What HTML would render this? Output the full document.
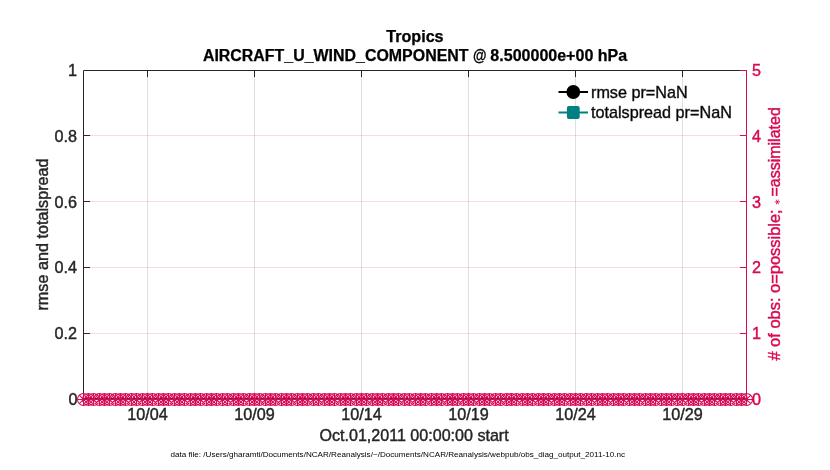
<!DOCTYPE html>
<html lang="en"><head><meta charset="utf-8"><title>Tropics AIRCRAFT_U_WIND_COMPONENT</title>
<style>html,body{margin:0;padding:0;background:#fff;}body{width:830px;height:470px;overflow:hidden;}svg{display:block;}text{font-family:"Liberation Sans",Arial,Helvetica,sans-serif;font-size:16.2px;fill:#262626;stroke:#262626;stroke-width:0.42px;}.b{font-weight:bold;font-size:15.85px;fill:#000;stroke:#000;stroke-width:0.25px}.p{fill:#d70a53;stroke:#d70a53}.s{font-size:8.1px;fill:#000;stroke:none}</style></head><body>
<svg width="830" height="470" viewBox="0 0 830 470">
<rect width="830" height="470" fill="#fff"/>
<g stroke="rgba(38,38,38,0.15)" stroke-width="1">
<line x1="147.50" y1="70.5" x2="147.50" y2="399.5"/>
<line x1="254.50" y1="70.5" x2="254.50" y2="399.5"/>
<line x1="361.50" y1="70.5" x2="361.50" y2="399.5"/>
<line x1="468.50" y1="70.5" x2="468.50" y2="399.5"/>
<line x1="575.50" y1="70.5" x2="575.50" y2="399.5"/>
<line x1="682.50" y1="70.5" x2="682.50" y2="399.5"/>
</g>
<g stroke="#262626" stroke-width="1" fill="none">
<path d="M83.5 399.5 V70.5 H746.5"/>
<line x1="83.5" y1="398.5" x2="746.5" y2="398.5" stroke-opacity="0.92"/>
<line x1="147.50" y1="70.5" x2="147.50" y2="77.1"/>
<line x1="147.50" y1="399.5" x2="147.50" y2="392.9"/>
<line x1="254.50" y1="70.5" x2="254.50" y2="77.1"/>
<line x1="254.50" y1="399.5" x2="254.50" y2="392.9"/>
<line x1="361.50" y1="70.5" x2="361.50" y2="77.1"/>
<line x1="361.50" y1="399.5" x2="361.50" y2="392.9"/>
<line x1="468.50" y1="70.5" x2="468.50" y2="77.1"/>
<line x1="468.50" y1="399.5" x2="468.50" y2="392.9"/>
<line x1="575.50" y1="70.5" x2="575.50" y2="77.1"/>
<line x1="575.50" y1="399.5" x2="575.50" y2="392.9"/>
<line x1="682.50" y1="70.5" x2="682.50" y2="77.1"/>
<line x1="682.50" y1="399.5" x2="682.50" y2="392.9"/>
<line x1="83.5" y1="333.50" x2="90.1" y2="333.50"/>
<line x1="83.5" y1="267.50" x2="90.1" y2="267.50"/>
<line x1="83.5" y1="201.50" x2="90.1" y2="201.50"/>
<line x1="83.5" y1="135.50" x2="90.1" y2="135.50"/>
</g>
<g stroke="rgba(215,10,83,0.15)" stroke-width="1">
<line x1="83.5" y1="333.50" x2="746.5" y2="333.50"/>
<line x1="83.5" y1="267.50" x2="746.5" y2="267.50"/>
<line x1="83.5" y1="201.50" x2="746.5" y2="201.50"/>
<line x1="83.5" y1="135.50" x2="746.5" y2="135.50"/>
</g>
<g stroke="#d70a53" stroke-width="1" fill="none">
<line x1="746.5" y1="70.0" x2="746.5" y2="399.5"/>
<line x1="739.9" y1="399.50" x2="746.5" y2="399.50"/>
<line x1="739.9" y1="333.50" x2="746.5" y2="333.50"/>
<line x1="739.9" y1="267.50" x2="746.5" y2="267.50"/>
<line x1="739.9" y1="201.50" x2="746.5" y2="201.50"/>
<line x1="739.9" y1="135.50" x2="746.5" y2="135.50"/>
<line x1="739.9" y1="70.50" x2="746.5" y2="70.50"/>
</g>
<g stroke="#d70a53" stroke-width="1.05" fill="none">
<path d="M77.50 399.45a6.00 6.00 0 1 0 12.00 0a6.00 6.00 0 1 0 -12.00 0M82.50 399.45a6.00 6.00 0 1 0 12.00 0a6.00 6.00 0 1 0 -12.00 0M87.50 399.45a6.00 6.00 0 1 0 12.00 0a6.00 6.00 0 1 0 -12.00 0M93.50 399.45a6.00 6.00 0 1 0 12.00 0a6.00 6.00 0 1 0 -12.00 0M98.50 399.45a6.00 6.00 0 1 0 12.00 0a6.00 6.00 0 1 0 -12.00 0M103.50 399.45a6.00 6.00 0 1 0 12.00 0a6.00 6.00 0 1 0 -12.00 0M109.50 399.45a6.00 6.00 0 1 0 12.00 0a6.00 6.00 0 1 0 -12.00 0M114.50 399.45a6.00 6.00 0 1 0 12.00 0a6.00 6.00 0 1 0 -12.00 0M119.50 399.45a6.00 6.00 0 1 0 12.00 0a6.00 6.00 0 1 0 -12.00 0M125.50 399.45a6.00 6.00 0 1 0 12.00 0a6.00 6.00 0 1 0 -12.00 0M130.50 399.45a6.00 6.00 0 1 0 12.00 0a6.00 6.00 0 1 0 -12.00 0M136.50 399.45a6.00 6.00 0 1 0 12.00 0a6.00 6.00 0 1 0 -12.00 0M141.50 399.45a6.00 6.00 0 1 0 12.00 0a6.00 6.00 0 1 0 -12.00 0M146.50 399.45a6.00 6.00 0 1 0 12.00 0a6.00 6.00 0 1 0 -12.00 0M152.50 399.45a6.00 6.00 0 1 0 12.00 0a6.00 6.00 0 1 0 -12.00 0M157.50 399.45a6.00 6.00 0 1 0 12.00 0a6.00 6.00 0 1 0 -12.00 0M162.50 399.45a6.00 6.00 0 1 0 12.00 0a6.00 6.00 0 1 0 -12.00 0M168.50 399.45a6.00 6.00 0 1 0 12.00 0a6.00 6.00 0 1 0 -12.00 0M173.50 399.45a6.00 6.00 0 1 0 12.00 0a6.00 6.00 0 1 0 -12.00 0M178.50 399.45a6.00 6.00 0 1 0 12.00 0a6.00 6.00 0 1 0 -12.00 0M184.50 399.45a6.00 6.00 0 1 0 12.00 0a6.00 6.00 0 1 0 -12.00 0M189.50 399.45a6.00 6.00 0 1 0 12.00 0a6.00 6.00 0 1 0 -12.00 0M194.50 399.45a6.00 6.00 0 1 0 12.00 0a6.00 6.00 0 1 0 -12.00 0M200.50 399.45a6.00 6.00 0 1 0 12.00 0a6.00 6.00 0 1 0 -12.00 0M205.50 399.45a6.00 6.00 0 1 0 12.00 0a6.00 6.00 0 1 0 -12.00 0M210.50 399.45a6.00 6.00 0 1 0 12.00 0a6.00 6.00 0 1 0 -12.00 0M216.50 399.45a6.00 6.00 0 1 0 12.00 0a6.00 6.00 0 1 0 -12.00 0M221.50 399.45a6.00 6.00 0 1 0 12.00 0a6.00 6.00 0 1 0 -12.00 0M227.50 399.45a6.00 6.00 0 1 0 12.00 0a6.00 6.00 0 1 0 -12.00 0M232.50 399.45a6.00 6.00 0 1 0 12.00 0a6.00 6.00 0 1 0 -12.00 0M237.50 399.45a6.00 6.00 0 1 0 12.00 0a6.00 6.00 0 1 0 -12.00 0M243.50 399.45a6.00 6.00 0 1 0 12.00 0a6.00 6.00 0 1 0 -12.00 0M248.50 399.45a6.00 6.00 0 1 0 12.00 0a6.00 6.00 0 1 0 -12.00 0M253.50 399.45a6.00 6.00 0 1 0 12.00 0a6.00 6.00 0 1 0 -12.00 0M259.50 399.45a6.00 6.00 0 1 0 12.00 0a6.00 6.00 0 1 0 -12.00 0M264.50 399.45a6.00 6.00 0 1 0 12.00 0a6.00 6.00 0 1 0 -12.00 0M269.50 399.45a6.00 6.00 0 1 0 12.00 0a6.00 6.00 0 1 0 -12.00 0M275.50 399.45a6.00 6.00 0 1 0 12.00 0a6.00 6.00 0 1 0 -12.00 0M280.50 399.45a6.00 6.00 0 1 0 12.00 0a6.00 6.00 0 1 0 -12.00 0M285.50 399.45a6.00 6.00 0 1 0 12.00 0a6.00 6.00 0 1 0 -12.00 0M291.50 399.45a6.00 6.00 0 1 0 12.00 0a6.00 6.00 0 1 0 -12.00 0M296.50 399.45a6.00 6.00 0 1 0 12.00 0a6.00 6.00 0 1 0 -12.00 0M301.50 399.45a6.00 6.00 0 1 0 12.00 0a6.00 6.00 0 1 0 -12.00 0M307.50 399.45a6.00 6.00 0 1 0 12.00 0a6.00 6.00 0 1 0 -12.00 0M312.50 399.45a6.00 6.00 0 1 0 12.00 0a6.00 6.00 0 1 0 -12.00 0M318.50 399.45a6.00 6.00 0 1 0 12.00 0a6.00 6.00 0 1 0 -12.00 0M323.50 399.45a6.00 6.00 0 1 0 12.00 0a6.00 6.00 0 1 0 -12.00 0M328.50 399.45a6.00 6.00 0 1 0 12.00 0a6.00 6.00 0 1 0 -12.00 0M334.50 399.45a6.00 6.00 0 1 0 12.00 0a6.00 6.00 0 1 0 -12.00 0M339.50 399.45a6.00 6.00 0 1 0 12.00 0a6.00 6.00 0 1 0 -12.00 0M344.50 399.45a6.00 6.00 0 1 0 12.00 0a6.00 6.00 0 1 0 -12.00 0M350.50 399.45a6.00 6.00 0 1 0 12.00 0a6.00 6.00 0 1 0 -12.00 0M355.50 399.45a6.00 6.00 0 1 0 12.00 0a6.00 6.00 0 1 0 -12.00 0M360.50 399.45a6.00 6.00 0 1 0 12.00 0a6.00 6.00 0 1 0 -12.00 0M366.50 399.45a6.00 6.00 0 1 0 12.00 0a6.00 6.00 0 1 0 -12.00 0M371.50 399.45a6.00 6.00 0 1 0 12.00 0a6.00 6.00 0 1 0 -12.00 0M376.50 399.45a6.00 6.00 0 1 0 12.00 0a6.00 6.00 0 1 0 -12.00 0M382.50 399.45a6.00 6.00 0 1 0 12.00 0a6.00 6.00 0 1 0 -12.00 0M387.50 399.45a6.00 6.00 0 1 0 12.00 0a6.00 6.00 0 1 0 -12.00 0M392.50 399.45a6.00 6.00 0 1 0 12.00 0a6.00 6.00 0 1 0 -12.00 0M398.50 399.45a6.00 6.00 0 1 0 12.00 0a6.00 6.00 0 1 0 -12.00 0M403.50 399.45a6.00 6.00 0 1 0 12.00 0a6.00 6.00 0 1 0 -12.00 0M409.50 399.45a6.00 6.00 0 1 0 12.00 0a6.00 6.00 0 1 0 -12.00 0M414.50 399.45a6.00 6.00 0 1 0 12.00 0a6.00 6.00 0 1 0 -12.00 0M419.50 399.45a6.00 6.00 0 1 0 12.00 0a6.00 6.00 0 1 0 -12.00 0M425.50 399.45a6.00 6.00 0 1 0 12.00 0a6.00 6.00 0 1 0 -12.00 0M430.50 399.45a6.00 6.00 0 1 0 12.00 0a6.00 6.00 0 1 0 -12.00 0M435.50 399.45a6.00 6.00 0 1 0 12.00 0a6.00 6.00 0 1 0 -12.00 0M441.50 399.45a6.00 6.00 0 1 0 12.00 0a6.00 6.00 0 1 0 -12.00 0M446.50 399.45a6.00 6.00 0 1 0 12.00 0a6.00 6.00 0 1 0 -12.00 0M451.50 399.45a6.00 6.00 0 1 0 12.00 0a6.00 6.00 0 1 0 -12.00 0M457.50 399.45a6.00 6.00 0 1 0 12.00 0a6.00 6.00 0 1 0 -12.00 0M462.50 399.45a6.00 6.00 0 1 0 12.00 0a6.00 6.00 0 1 0 -12.00 0M467.50 399.45a6.00 6.00 0 1 0 12.00 0a6.00 6.00 0 1 0 -12.00 0M473.50 399.45a6.00 6.00 0 1 0 12.00 0a6.00 6.00 0 1 0 -12.00 0M478.50 399.45a6.00 6.00 0 1 0 12.00 0a6.00 6.00 0 1 0 -12.00 0M483.50 399.45a6.00 6.00 0 1 0 12.00 0a6.00 6.00 0 1 0 -12.00 0M489.50 399.45a6.00 6.00 0 1 0 12.00 0a6.00 6.00 0 1 0 -12.00 0M494.50 399.45a6.00 6.00 0 1 0 12.00 0a6.00 6.00 0 1 0 -12.00 0M500.50 399.45a6.00 6.00 0 1 0 12.00 0a6.00 6.00 0 1 0 -12.00 0M505.50 399.45a6.00 6.00 0 1 0 12.00 0a6.00 6.00 0 1 0 -12.00 0M510.50 399.45a6.00 6.00 0 1 0 12.00 0a6.00 6.00 0 1 0 -12.00 0M516.50 399.45a6.00 6.00 0 1 0 12.00 0a6.00 6.00 0 1 0 -12.00 0M521.50 399.45a6.00 6.00 0 1 0 12.00 0a6.00 6.00 0 1 0 -12.00 0M526.50 399.45a6.00 6.00 0 1 0 12.00 0a6.00 6.00 0 1 0 -12.00 0M532.50 399.45a6.00 6.00 0 1 0 12.00 0a6.00 6.00 0 1 0 -12.00 0M537.50 399.45a6.00 6.00 0 1 0 12.00 0a6.00 6.00 0 1 0 -12.00 0M542.50 399.45a6.00 6.00 0 1 0 12.00 0a6.00 6.00 0 1 0 -12.00 0M548.50 399.45a6.00 6.00 0 1 0 12.00 0a6.00 6.00 0 1 0 -12.00 0M553.50 399.45a6.00 6.00 0 1 0 12.00 0a6.00 6.00 0 1 0 -12.00 0M558.50 399.45a6.00 6.00 0 1 0 12.00 0a6.00 6.00 0 1 0 -12.00 0M564.50 399.45a6.00 6.00 0 1 0 12.00 0a6.00 6.00 0 1 0 -12.00 0M569.50 399.45a6.00 6.00 0 1 0 12.00 0a6.00 6.00 0 1 0 -12.00 0M574.50 399.45a6.00 6.00 0 1 0 12.00 0a6.00 6.00 0 1 0 -12.00 0M580.50 399.45a6.00 6.00 0 1 0 12.00 0a6.00 6.00 0 1 0 -12.00 0M585.50 399.45a6.00 6.00 0 1 0 12.00 0a6.00 6.00 0 1 0 -12.00 0M591.50 399.45a6.00 6.00 0 1 0 12.00 0a6.00 6.00 0 1 0 -12.00 0M596.50 399.45a6.00 6.00 0 1 0 12.00 0a6.00 6.00 0 1 0 -12.00 0M601.50 399.45a6.00 6.00 0 1 0 12.00 0a6.00 6.00 0 1 0 -12.00 0M607.50 399.45a6.00 6.00 0 1 0 12.00 0a6.00 6.00 0 1 0 -12.00 0M612.50 399.45a6.00 6.00 0 1 0 12.00 0a6.00 6.00 0 1 0 -12.00 0M617.50 399.45a6.00 6.00 0 1 0 12.00 0a6.00 6.00 0 1 0 -12.00 0M623.50 399.45a6.00 6.00 0 1 0 12.00 0a6.00 6.00 0 1 0 -12.00 0M628.50 399.45a6.00 6.00 0 1 0 12.00 0a6.00 6.00 0 1 0 -12.00 0M633.50 399.45a6.00 6.00 0 1 0 12.00 0a6.00 6.00 0 1 0 -12.00 0M639.50 399.45a6.00 6.00 0 1 0 12.00 0a6.00 6.00 0 1 0 -12.00 0M644.50 399.45a6.00 6.00 0 1 0 12.00 0a6.00 6.00 0 1 0 -12.00 0M649.50 399.45a6.00 6.00 0 1 0 12.00 0a6.00 6.00 0 1 0 -12.00 0M655.50 399.45a6.00 6.00 0 1 0 12.00 0a6.00 6.00 0 1 0 -12.00 0M660.50 399.45a6.00 6.00 0 1 0 12.00 0a6.00 6.00 0 1 0 -12.00 0M665.50 399.45a6.00 6.00 0 1 0 12.00 0a6.00 6.00 0 1 0 -12.00 0M671.50 399.45a6.00 6.00 0 1 0 12.00 0a6.00 6.00 0 1 0 -12.00 0M676.50 399.45a6.00 6.00 0 1 0 12.00 0a6.00 6.00 0 1 0 -12.00 0M682.50 399.45a6.00 6.00 0 1 0 12.00 0a6.00 6.00 0 1 0 -12.00 0M687.50 399.45a6.00 6.00 0 1 0 12.00 0a6.00 6.00 0 1 0 -12.00 0M692.50 399.45a6.00 6.00 0 1 0 12.00 0a6.00 6.00 0 1 0 -12.00 0M698.50 399.45a6.00 6.00 0 1 0 12.00 0a6.00 6.00 0 1 0 -12.00 0M703.50 399.45a6.00 6.00 0 1 0 12.00 0a6.00 6.00 0 1 0 -12.00 0M708.50 399.45a6.00 6.00 0 1 0 12.00 0a6.00 6.00 0 1 0 -12.00 0M714.50 399.45a6.00 6.00 0 1 0 12.00 0a6.00 6.00 0 1 0 -12.00 0M719.50 399.45a6.00 6.00 0 1 0 12.00 0a6.00 6.00 0 1 0 -12.00 0M724.50 399.45a6.00 6.00 0 1 0 12.00 0a6.00 6.00 0 1 0 -12.00 0M730.50 399.45a6.00 6.00 0 1 0 12.00 0a6.00 6.00 0 1 0 -12.00 0M735.50 399.45a6.00 6.00 0 1 0 12.00 0a6.00 6.00 0 1 0 -12.00 0M740.50 399.45a6.00 6.00 0 1 0 12.00 0a6.00 6.00 0 1 0 -12.00 0"/>
<path d="M79.26 395.21l8.49 8.49M79.26 403.69l8.49 -8.49M83.50 393.45v12.00M77.50 399.45h12.00M84.26 395.21l8.49 8.49M84.26 403.69l8.49 -8.49M88.50 393.45v12.00M82.50 399.45h12.00M89.26 395.21l8.49 8.49M89.26 403.69l8.49 -8.49M93.50 393.45v12.00M87.50 399.45h12.00M95.26 395.21l8.49 8.49M95.26 403.69l8.49 -8.49M99.50 393.45v12.00M93.50 399.45h12.00M100.26 395.21l8.49 8.49M100.26 403.69l8.49 -8.49M104.50 393.45v12.00M98.50 399.45h12.00M105.26 395.21l8.49 8.49M105.26 403.69l8.49 -8.49M109.50 393.45v12.00M103.50 399.45h12.00M111.26 395.21l8.49 8.49M111.26 403.69l8.49 -8.49M115.50 393.45v12.00M109.50 399.45h12.00M116.26 395.21l8.49 8.49M116.26 403.69l8.49 -8.49M120.50 393.45v12.00M114.50 399.45h12.00M121.26 395.21l8.49 8.49M121.26 403.69l8.49 -8.49M125.50 393.45v12.00M119.50 399.45h12.00M127.26 395.21l8.49 8.49M127.26 403.69l8.49 -8.49M131.50 393.45v12.00M125.50 399.45h12.00M132.26 395.21l8.49 8.49M132.26 403.69l8.49 -8.49M136.50 393.45v12.00M130.50 399.45h12.00M138.26 395.21l8.49 8.49M138.26 403.69l8.49 -8.49M142.50 393.45v12.00M136.50 399.45h12.00M143.26 395.21l8.49 8.49M143.26 403.69l8.49 -8.49M147.50 393.45v12.00M141.50 399.45h12.00M148.26 395.21l8.49 8.49M148.26 403.69l8.49 -8.49M152.50 393.45v12.00M146.50 399.45h12.00M154.26 395.21l8.49 8.49M154.26 403.69l8.49 -8.49M158.50 393.45v12.00M152.50 399.45h12.00M159.26 395.21l8.49 8.49M159.26 403.69l8.49 -8.49M163.50 393.45v12.00M157.50 399.45h12.00M164.26 395.21l8.49 8.49M164.26 403.69l8.49 -8.49M168.50 393.45v12.00M162.50 399.45h12.00M170.26 395.21l8.49 8.49M170.26 403.69l8.49 -8.49M174.50 393.45v12.00M168.50 399.45h12.00M175.26 395.21l8.49 8.49M175.26 403.69l8.49 -8.49M179.50 393.45v12.00M173.50 399.45h12.00M180.26 395.21l8.49 8.49M180.26 403.69l8.49 -8.49M184.50 393.45v12.00M178.50 399.45h12.00M186.26 395.21l8.49 8.49M186.26 403.69l8.49 -8.49M190.50 393.45v12.00M184.50 399.45h12.00M191.26 395.21l8.49 8.49M191.26 403.69l8.49 -8.49M195.50 393.45v12.00M189.50 399.45h12.00M196.26 395.21l8.49 8.49M196.26 403.69l8.49 -8.49M200.50 393.45v12.00M194.50 399.45h12.00M202.26 395.21l8.49 8.49M202.26 403.69l8.49 -8.49M206.50 393.45v12.00M200.50 399.45h12.00M207.26 395.21l8.49 8.49M207.26 403.69l8.49 -8.49M211.50 393.45v12.00M205.50 399.45h12.00M212.26 395.21l8.49 8.49M212.26 403.69l8.49 -8.49M216.50 393.45v12.00M210.50 399.45h12.00M218.26 395.21l8.49 8.49M218.26 403.69l8.49 -8.49M222.50 393.45v12.00M216.50 399.45h12.00M223.26 395.21l8.49 8.49M223.26 403.69l8.49 -8.49M227.50 393.45v12.00M221.50 399.45h12.00M229.26 395.21l8.49 8.49M229.26 403.69l8.49 -8.49M233.50 393.45v12.00M227.50 399.45h12.00M234.26 395.21l8.49 8.49M234.26 403.69l8.49 -8.49M238.50 393.45v12.00M232.50 399.45h12.00M239.26 395.21l8.49 8.49M239.26 403.69l8.49 -8.49M243.50 393.45v12.00M237.50 399.45h12.00M245.26 395.21l8.49 8.49M245.26 403.69l8.49 -8.49M249.50 393.45v12.00M243.50 399.45h12.00M250.26 395.21l8.49 8.49M250.26 403.69l8.49 -8.49M254.50 393.45v12.00M248.50 399.45h12.00M255.26 395.21l8.49 8.49M255.26 403.69l8.49 -8.49M259.50 393.45v12.00M253.50 399.45h12.00M261.26 395.21l8.49 8.49M261.26 403.69l8.49 -8.49M265.50 393.45v12.00M259.50 399.45h12.00M266.26 395.21l8.49 8.49M266.26 403.69l8.49 -8.49M270.50 393.45v12.00M264.50 399.45h12.00M271.26 395.21l8.49 8.49M271.26 403.69l8.49 -8.49M275.50 393.45v12.00M269.50 399.45h12.00M277.26 395.21l8.49 8.49M277.26 403.69l8.49 -8.49M281.50 393.45v12.00M275.50 399.45h12.00M282.26 395.21l8.49 8.49M282.26 403.69l8.49 -8.49M286.50 393.45v12.00M280.50 399.45h12.00M287.26 395.21l8.49 8.49M287.26 403.69l8.49 -8.49M291.50 393.45v12.00M285.50 399.45h12.00M293.26 395.21l8.49 8.49M293.26 403.69l8.49 -8.49M297.50 393.45v12.00M291.50 399.45h12.00M298.26 395.21l8.49 8.49M298.26 403.69l8.49 -8.49M302.50 393.45v12.00M296.50 399.45h12.00M303.26 395.21l8.49 8.49M303.26 403.69l8.49 -8.49M307.50 393.45v12.00M301.50 399.45h12.00M309.26 395.21l8.49 8.49M309.26 403.69l8.49 -8.49M313.50 393.45v12.00M307.50 399.45h12.00M314.26 395.21l8.49 8.49M314.26 403.69l8.49 -8.49M318.50 393.45v12.00M312.50 399.45h12.00M320.26 395.21l8.49 8.49M320.26 403.69l8.49 -8.49M324.50 393.45v12.00M318.50 399.45h12.00M325.26 395.21l8.49 8.49M325.26 403.69l8.49 -8.49M329.50 393.45v12.00M323.50 399.45h12.00M330.26 395.21l8.49 8.49M330.26 403.69l8.49 -8.49M334.50 393.45v12.00M328.50 399.45h12.00M336.26 395.21l8.49 8.49M336.26 403.69l8.49 -8.49M340.50 393.45v12.00M334.50 399.45h12.00M341.26 395.21l8.49 8.49M341.26 403.69l8.49 -8.49M345.50 393.45v12.00M339.50 399.45h12.00M346.26 395.21l8.49 8.49M346.26 403.69l8.49 -8.49M350.50 393.45v12.00M344.50 399.45h12.00M352.26 395.21l8.49 8.49M352.26 403.69l8.49 -8.49M356.50 393.45v12.00M350.50 399.45h12.00M357.26 395.21l8.49 8.49M357.26 403.69l8.49 -8.49M361.50 393.45v12.00M355.50 399.45h12.00M362.26 395.21l8.49 8.49M362.26 403.69l8.49 -8.49M366.50 393.45v12.00M360.50 399.45h12.00M368.26 395.21l8.49 8.49M368.26 403.69l8.49 -8.49M372.50 393.45v12.00M366.50 399.45h12.00M373.26 395.21l8.49 8.49M373.26 403.69l8.49 -8.49M377.50 393.45v12.00M371.50 399.45h12.00M378.26 395.21l8.49 8.49M378.26 403.69l8.49 -8.49M382.50 393.45v12.00M376.50 399.45h12.00M384.26 395.21l8.49 8.49M384.26 403.69l8.49 -8.49M388.50 393.45v12.00M382.50 399.45h12.00M389.26 395.21l8.49 8.49M389.26 403.69l8.49 -8.49M393.50 393.45v12.00M387.50 399.45h12.00M394.26 395.21l8.49 8.49M394.26 403.69l8.49 -8.49M398.50 393.45v12.00M392.50 399.45h12.00M400.26 395.21l8.49 8.49M400.26 403.69l8.49 -8.49M404.50 393.45v12.00M398.50 399.45h12.00M405.26 395.21l8.49 8.49M405.26 403.69l8.49 -8.49M409.50 393.45v12.00M403.50 399.45h12.00M411.26 395.21l8.49 8.49M411.26 403.69l8.49 -8.49M415.50 393.45v12.00M409.50 399.45h12.00M416.26 395.21l8.49 8.49M416.26 403.69l8.49 -8.49M420.50 393.45v12.00M414.50 399.45h12.00M421.26 395.21l8.49 8.49M421.26 403.69l8.49 -8.49M425.50 393.45v12.00M419.50 399.45h12.00M427.26 395.21l8.49 8.49M427.26 403.69l8.49 -8.49M431.50 393.45v12.00M425.50 399.45h12.00M432.26 395.21l8.49 8.49M432.26 403.69l8.49 -8.49M436.50 393.45v12.00M430.50 399.45h12.00M437.26 395.21l8.49 8.49M437.26 403.69l8.49 -8.49M441.50 393.45v12.00M435.50 399.45h12.00M443.26 395.21l8.49 8.49M443.26 403.69l8.49 -8.49M447.50 393.45v12.00M441.50 399.45h12.00M448.26 395.21l8.49 8.49M448.26 403.69l8.49 -8.49M452.50 393.45v12.00M446.50 399.45h12.00M453.26 395.21l8.49 8.49M453.26 403.69l8.49 -8.49M457.50 393.45v12.00M451.50 399.45h12.00M459.26 395.21l8.49 8.49M459.26 403.69l8.49 -8.49M463.50 393.45v12.00M457.50 399.45h12.00M464.26 395.21l8.49 8.49M464.26 403.69l8.49 -8.49M468.50 393.45v12.00M462.50 399.45h12.00M469.26 395.21l8.49 8.49M469.26 403.69l8.49 -8.49M473.50 393.45v12.00M467.50 399.45h12.00M475.26 395.21l8.49 8.49M475.26 403.69l8.49 -8.49M479.50 393.45v12.00M473.50 399.45h12.00M480.26 395.21l8.49 8.49M480.26 403.69l8.49 -8.49M484.50 393.45v12.00M478.50 399.45h12.00M485.26 395.21l8.49 8.49M485.26 403.69l8.49 -8.49M489.50 393.45v12.00M483.50 399.45h12.00M491.26 395.21l8.49 8.49M491.26 403.69l8.49 -8.49M495.50 393.45v12.00M489.50 399.45h12.00M496.26 395.21l8.49 8.49M496.26 403.69l8.49 -8.49M500.50 393.45v12.00M494.50 399.45h12.00M502.26 395.21l8.49 8.49M502.26 403.69l8.49 -8.49M506.50 393.45v12.00M500.50 399.45h12.00M507.26 395.21l8.49 8.49M507.26 403.69l8.49 -8.49M511.50 393.45v12.00M505.50 399.45h12.00M512.26 395.21l8.49 8.49M512.26 403.69l8.49 -8.49M516.50 393.45v12.00M510.50 399.45h12.00M518.26 395.21l8.49 8.49M518.26 403.69l8.49 -8.49M522.50 393.45v12.00M516.50 399.45h12.00M523.26 395.21l8.49 8.49M523.26 403.69l8.49 -8.49M527.50 393.45v12.00M521.50 399.45h12.00M528.26 395.21l8.49 8.49M528.26 403.69l8.49 -8.49M532.50 393.45v12.00M526.50 399.45h12.00M534.26 395.21l8.49 8.49M534.26 403.69l8.49 -8.49M538.50 393.45v12.00M532.50 399.45h12.00M539.26 395.21l8.49 8.49M539.26 403.69l8.49 -8.49M543.50 393.45v12.00M537.50 399.45h12.00M544.26 395.21l8.49 8.49M544.26 403.69l8.49 -8.49M548.50 393.45v12.00M542.50 399.45h12.00M550.26 395.21l8.49 8.49M550.26 403.69l8.49 -8.49M554.50 393.45v12.00M548.50 399.45h12.00M555.26 395.21l8.49 8.49M555.26 403.69l8.49 -8.49M559.50 393.45v12.00M553.50 399.45h12.00M560.26 395.21l8.49 8.49M560.26 403.69l8.49 -8.49M564.50 393.45v12.00M558.50 399.45h12.00M566.26 395.21l8.49 8.49M566.26 403.69l8.49 -8.49M570.50 393.45v12.00M564.50 399.45h12.00M571.26 395.21l8.49 8.49M571.26 403.69l8.49 -8.49M575.50 393.45v12.00M569.50 399.45h12.00M576.26 395.21l8.49 8.49M576.26 403.69l8.49 -8.49M580.50 393.45v12.00M574.50 399.45h12.00M582.26 395.21l8.49 8.49M582.26 403.69l8.49 -8.49M586.50 393.45v12.00M580.50 399.45h12.00M587.26 395.21l8.49 8.49M587.26 403.69l8.49 -8.49M591.50 393.45v12.00M585.50 399.45h12.00M593.26 395.21l8.49 8.49M593.26 403.69l8.49 -8.49M597.50 393.45v12.00M591.50 399.45h12.00M598.26 395.21l8.49 8.49M598.26 403.69l8.49 -8.49M602.50 393.45v12.00M596.50 399.45h12.00M603.26 395.21l8.49 8.49M603.26 403.69l8.49 -8.49M607.50 393.45v12.00M601.50 399.45h12.00M609.26 395.21l8.49 8.49M609.26 403.69l8.49 -8.49M613.50 393.45v12.00M607.50 399.45h12.00M614.26 395.21l8.49 8.49M614.26 403.69l8.49 -8.49M618.50 393.45v12.00M612.50 399.45h12.00M619.26 395.21l8.49 8.49M619.26 403.69l8.49 -8.49M623.50 393.45v12.00M617.50 399.45h12.00M625.26 395.21l8.49 8.49M625.26 403.69l8.49 -8.49M629.50 393.45v12.00M623.50 399.45h12.00M630.26 395.21l8.49 8.49M630.26 403.69l8.49 -8.49M634.50 393.45v12.00M628.50 399.45h12.00M635.26 395.21l8.49 8.49M635.26 403.69l8.49 -8.49M639.50 393.45v12.00M633.50 399.45h12.00M641.26 395.21l8.49 8.49M641.26 403.69l8.49 -8.49M645.50 393.45v12.00M639.50 399.45h12.00M646.26 395.21l8.49 8.49M646.26 403.69l8.49 -8.49M650.50 393.45v12.00M644.50 399.45h12.00M651.26 395.21l8.49 8.49M651.26 403.69l8.49 -8.49M655.50 393.45v12.00M649.50 399.45h12.00M657.26 395.21l8.49 8.49M657.26 403.69l8.49 -8.49M661.50 393.45v12.00M655.50 399.45h12.00M662.26 395.21l8.49 8.49M662.26 403.69l8.49 -8.49M666.50 393.45v12.00M660.50 399.45h12.00M667.26 395.21l8.49 8.49M667.26 403.69l8.49 -8.49M671.50 393.45v12.00M665.50 399.45h12.00M673.26 395.21l8.49 8.49M673.26 403.69l8.49 -8.49M677.50 393.45v12.00M671.50 399.45h12.00M678.26 395.21l8.49 8.49M678.26 403.69l8.49 -8.49M682.50 393.45v12.00M676.50 399.45h12.00M684.26 395.21l8.49 8.49M684.26 403.69l8.49 -8.49M688.50 393.45v12.00M682.50 399.45h12.00M689.26 395.21l8.49 8.49M689.26 403.69l8.49 -8.49M693.50 393.45v12.00M687.50 399.45h12.00M694.26 395.21l8.49 8.49M694.26 403.69l8.49 -8.49M698.50 393.45v12.00M692.50 399.45h12.00M700.26 395.21l8.49 8.49M700.26 403.69l8.49 -8.49M704.50 393.45v12.00M698.50 399.45h12.00M705.26 395.21l8.49 8.49M705.26 403.69l8.49 -8.49M709.50 393.45v12.00M703.50 399.45h12.00M710.26 395.21l8.49 8.49M710.26 403.69l8.49 -8.49M714.50 393.45v12.00M708.50 399.45h12.00M716.26 395.21l8.49 8.49M716.26 403.69l8.49 -8.49M720.50 393.45v12.00M714.50 399.45h12.00M721.26 395.21l8.49 8.49M721.26 403.69l8.49 -8.49M725.50 393.45v12.00M719.50 399.45h12.00M726.26 395.21l8.49 8.49M726.26 403.69l8.49 -8.49M730.50 393.45v12.00M724.50 399.45h12.00M732.26 395.21l8.49 8.49M732.26 403.69l8.49 -8.49M736.50 393.45v12.00M730.50 399.45h12.00M737.26 395.21l8.49 8.49M737.26 403.69l8.49 -8.49M741.50 393.45v12.00M735.50 399.45h12.00M742.26 395.21l8.49 8.49M742.26 403.69l8.49 -8.49M746.50 393.45v12.00M740.50 399.45h12.00"/>
</g>
<line x1="558.5" y1="92" x2="588" y2="92" stroke="#000" stroke-width="2"/>
<circle cx="573.3" cy="92" r="6.9" fill="#000"/>
<line x1="558.5" y1="112.5" x2="588" y2="112.5" stroke="#008080" stroke-width="2"/>
<rect x="566.9" y="106.1" width="12.8" height="12.8" rx="2" fill="#008080"/>
<text x="591" y="97.5" style="fill:#000">rmse pr=NaN</text>
<text x="591" y="117.5" style="fill:#000">totalspread pr=NaN</text>
<text class="b" x="414.9" y="41.5" text-anchor="middle" style="font-size:16.15px">Tropics</text>
<text class="b" x="202.9" y="61.3" style="font-size:15.94px">AIRCRAFT_U_WIND_COMPONENT</text>
<text class="b" transform="translate(479.8 61.3) scale(0.87 1)" text-anchor="middle" style="font-size:15.9px">@</text>
<text class="b" x="627.2" y="61.3" text-anchor="end" style="font-size:16.05px">8.500000e+00 hPa</text>
<text x="77.6" y="405.3" text-anchor="end">0</text>
<text x="77" y="338.6" text-anchor="end">0.2</text>
<text x="77" y="272.8" text-anchor="end">0.4</text>
<text x="77" y="207.6" text-anchor="end">0.6</text>
<text x="77" y="141.8" text-anchor="end">0.8</text>
<text x="77" y="76.1" text-anchor="end">1</text>
<text class="p" x="752.1" y="405.3">0</text>
<text class="p" x="752.1" y="338.6">1</text>
<text class="p" x="752.1" y="272.8">2</text>
<text class="p" x="752.1" y="207.6">3</text>
<text class="p" x="752.1" y="141.8">4</text>
<text class="p" x="752.1" y="76.1">5</text>
<text x="147.50" y="420" text-anchor="middle">10/04</text>
<text x="254.50" y="420" text-anchor="middle">10/09</text>
<text x="361.50" y="420" text-anchor="middle">10/14</text>
<text x="468.50" y="420" text-anchor="middle">10/19</text>
<text x="575.50" y="420" text-anchor="middle">10/24</text>
<text x="682.50" y="420" text-anchor="middle">10/29</text>
<text x="414.1" y="440.8" text-anchor="middle" style="font-size:16.08px">Oct.01,2011 00:00:00 start</text>
<text transform="translate(48.1 234.5) rotate(-90)" text-anchor="middle">rmse and totalspread</text>
<g transform="translate(780.3 0) rotate(-90)">
<text class="p" x="-360.6" style="font-size:16.45px"># of obs: o=possible;</text>
<text class="p" x="-202" y="-0.6" text-anchor="middle" style="font-family:'DejaVu Sans',sans-serif;font-size:8.5px;stroke:none">∗</text>
<text class="p" x="-107.2" text-anchor="end" style="font-size:16px">=assimilated</text>
</g>
<text class="s" x="170.5" y="456.5">data file: /Users/gharamti/Documents/NCAR/Reanalysis/~/Documents/NCAR/Reanalysis/webpub/obs_diag_output_2011-10.nc</text>
</svg></body></html>
